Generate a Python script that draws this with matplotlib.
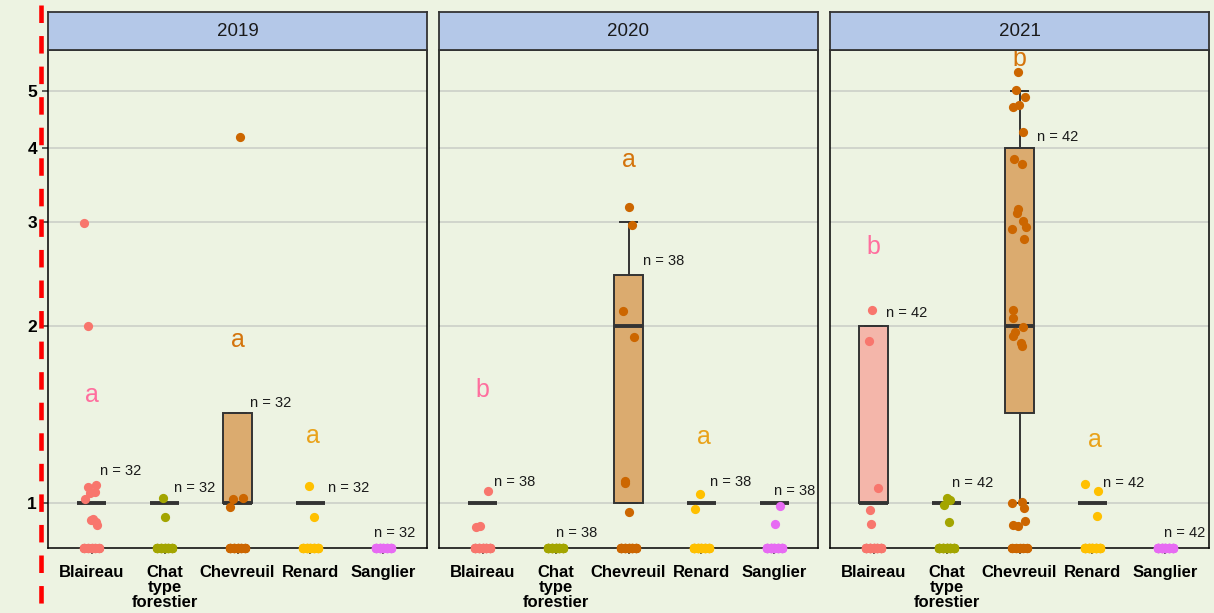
import numpy as np
import matplotlib
matplotlib.use('Agg')
import matplotlib.pyplot as plt
from matplotlib.lines import Line2D

plt.rcParams['font.family'] = ['Liberation Sans', 'DejaVu Sans']
plt.rcParams['lines.scale_dashes'] = False

years = ['2019', '2020', '2021']
species = ['Blaireau', 'Chat\ntype\nforestier', 'Chevreuil', 'Renard', 'Sanglier']
n_obs = [32, 38, 42]

# non-zero counts (jittered): (x offset, value)
pts_2019 = [
    [(-0.05, 1.066), (0.06, 1.073), (0.045, 1.045), (-0.03, 1.039), (-0.09, 1.015),
     (-0.01, 0.936), (0.06, 0.930), (0.02, 0.938), (0.07, 0.918), (-0.05, 2.0), (-0.1, 2.99)],
    [(-0.02, 1.018), (0.0, 0.946)],
    [(-0.057, 1.015), (0.07, 1.018), (-0.1, 0.986), (0.035, 4.18)],
    [(-0.015, 1.069), (0.05, 0.946)],
    [],
]
pts_2020 = [
    [(0.07, 1.049), (-0.09, 0.912), (-0.04, 0.915)],
    [],
    [(0.0, 3.18), (0.045, 2.96), (-0.07, 2.12), (0.07, 1.91), (-0.05, 1.091),
     (-0.05, 1.080), (0.01, 0.964)],
    [(-0.02, 1.036), (-0.09, 0.976)],
    [(0.08, 0.988), (0.01, 0.92)],
]
pts_2021 = [
    [(-0.02, 2.13), (-0.06, 1.885), (0.06, 1.059), (-0.05, 0.973), (-0.04, 0.92)],
    [(0.0, 1.018), (0.05, 1.012), (-0.04, 0.992), (0.03, 0.93)],
    [(-0.016, 5.38), (-0.05, 5.03), (0.075, 4.89), (-0.09, 4.70), (-0.007, 4.73),
     (0.044, 4.26), (-0.075, 3.83), (0.038, 3.76), (-0.016, 3.16), (-0.03, 3.10),
     (0.05, 3.01), (0.085, 2.94), (-0.1, 2.92), (0.06, 2.81), (-0.09, 2.13),
     (-0.085, 2.06), (0.05, 1.99), (-0.06, 1.95), (-0.085, 1.92), (0.02, 1.87),
     (0.03, 1.85), (-0.1, 1.0), (0.03, 1.005), (0.06, 0.98), (-0.085, 0.918),
     (0.075, 0.933), (-0.016, 0.914)],
    [(-0.1, 1.076), (0.08, 1.049), (0.07, 0.95)],
    [],
]

# box stats: (whislo, q1, med, q3, whishi)
box_2019 = [(1, 1, 1, 1, 1), (1, 1, 1, 1, 1), (1, 1, 1, 1.42, 1.42), (1, 1, 1, 1, 1), None]
box_2020 = [(1, 1, 1, 1, 1), None, (1, 1, 2, 2.44, 3), (1, 1, 1, 1, 1), (1, 1, 1, 1, 1)]
box_2021 = [(1, 1, 1, 2, 2), (1, 1, 1, 1, 1), (1, 1.42, 2, 4, 5), (1, 1, 1, 1, 1), None]

letters_2019 = ['a', '', 'a', 'a', '']
letters_2020 = ['b', '', 'a', 'a', '']
letters_2021 = ['b', '', 'b', 'a', '']
letter_y_2019 = [1.525, None, 1.89, 1.30, None]
letter_y_2020 = [1.555, None, 3.82, 1.296, None]
letter_y_2021 = [2.72, None, 5.66, 1.279, None]

nlab_dx_2019 = [0.395, 0.41, 0.45, 0.52, 0.16]
nlab_dx_2020 = [0.44, 0.29, 0.48, 0.40, 0.28]
nlab_dx_2021 = [0.45, 0.355, 0.52, 0.43, 0.27]
nlab_y_2019 = [1.133, 1.06, 1.478, 1.06, 0.889]
nlab_y_2020 = [1.087, 0.889, 2.57, 1.087, 1.049]
nlab_y_2021 = [2.10, 1.08, 4.18, 1.08, 0.889]

pt_colors = ['#F8766D', '#A3A500', '#CC6600', '#FFC000', '#E76BF3']
letter_colors = ['#FF6E9E', '#A3A500', '#D4740C', '#E9A21A', '#E76BF3']
box_fills = ['#F4B6AA', '#D1D17F', '#DBAB6F', '#FFE08A', '#F3B5F9']
bg = '#EDF3E2'
strip_col = '#B4C8E8'
dark = '#333333'
ZERO_DX = [-0.1, -0.05, 0.0, 0.05, 0.1]

pts_all = [pts_2019, pts_2020, pts_2021]
box_all = [box_2019, box_2020, box_2021]
let_all = [letters_2019, letters_2020, letters_2021]
lety_all = [letter_y_2019, letter_y_2020, letter_y_2021]
ndx_all = [nlab_dx_2019, nlab_dx_2020, nlab_dx_2021]
ny_all = [nlab_y_2019, nlab_y_2020, nlab_y_2021]

W, H = 1214, 613
fig = plt.figure(figsize=(W / 100, H / 100), dpi=100, facecolor=bg)
ylo, yhi = 0.839, 5.87
lefts = [48, 439, 830]
pw = 379

for k, yr in enumerate(years):
    ax = fig.add_axes([lefts[k] / W, (H - 548) / H, pw / W, 498 / H], facecolor=bg)
    sx = fig.add_axes([lefts[k] / W, (H - 50) / H, pw / W, 38 / H], facecolor=strip_col)
    sx.set_xticks([]); sx.set_yticks([])
    for s in sx.spines.values():
        s.set_color(dark); s.set_linewidth(1.3)
    sx.text(0.5, 0.5, yr, ha='center', va='center', fontsize=13.5, color='#1a1a1a',
            transform=sx.transAxes)

    ax.set_yscale('log')
    ax.set_ylim(ylo, yhi)
    ax.set_xlim(-0.6, 4.6)
    ax.set_yticks([1, 2, 3, 4, 5])
    ax.set_yticklabels(['1', '2', '3', '4', '5'])
    ax.yaxis.set_minor_locator(plt.NullLocator())
    ax.grid(axis='y', color='#C9CCC6', lw=1.1, zorder=0)
    ax.set_axisbelow(True)
    ax.set_xticks(range(len(species)))
    ax.set_xticklabels(species, fontweight='bold', fontsize=12)
    for lab in ax.get_xticklabels():
        lab.set_linespacing(1.02)
    ax.tick_params(axis='both', length=4, width=1.1, color=dark, pad=4)
    ax.tick_params(axis='x', pad=8)
    ax.tick_params(axis='y', labelsize=12.5)
    for lab in ax.get_yticklabels():
        lab.set_fontweight('bold')
    if k > 0:
        ax.tick_params(axis='y', length=0, labelleft=False)
    for s in ax.spines.values():
        s.set_color('black'); s.set_linewidth(1.1)

    for i in range(len(species)):
        b = box_all[k][i]
        if b is not None:
            st = dict(whislo=b[0], q1=b[1], med=b[2], q3=b[3], whishi=b[4], fliers=[])
            ax.bxp([st], positions=[i], widths=0.4, patch_artist=True, showfliers=False,
                   capwidths=0.24,
                   boxprops=dict(facecolor=box_fills[i], edgecolor=dark, linewidth=1.4),
                   medianprops=dict(color=dark, linewidth=2.8, solid_capstyle='butt'),
                   whiskerprops=dict(color=dark, linewidth=1.4),
                   capprops=dict(color=dark, linewidth=1.4), manage_ticks=False, zorder=2)
        pts = pts_all[k][i]
        if pts:
            xs = [i + p[0] for p in pts]
            ys = [p[1] for p in pts]
            ax.scatter(xs, ys, s=44, color=pt_colors[i], lw=0, zorder=3)
        nz = n_obs[k] - len(pts)
        zx = [i + ZERO_DX[j % len(ZERO_DX)] for j in range(nz)]
        ax.scatter(zx, [ylo] * nz, s=44, color=pt_colors[i], lw=0, zorder=4, clip_on=False)
        if let_all[k][i]:
            ax.text(i + (0.04 if i == 3 else 0), lety_all[k][i], let_all[k][i],
                    color=letter_colors[i], fontsize=18, ha='center', va='center', zorder=5)
        ax.text(i + ndx_all[k][i], ny_all[k][i], 'n = %d' % n_obs[k], fontsize=10.5,
                color='#1a1a1a', ha='center', va='center', zorder=5)

fig.add_artist(Line2D([41 / W, 41 / W], [1 - 5 / H, 0], color='#FF0000', lw=3.3,
                      dashes=(12.6, 9.4), transform=fig.transFigure))

fig.savefig('out.png', dpi=100, facecolor=bg)
